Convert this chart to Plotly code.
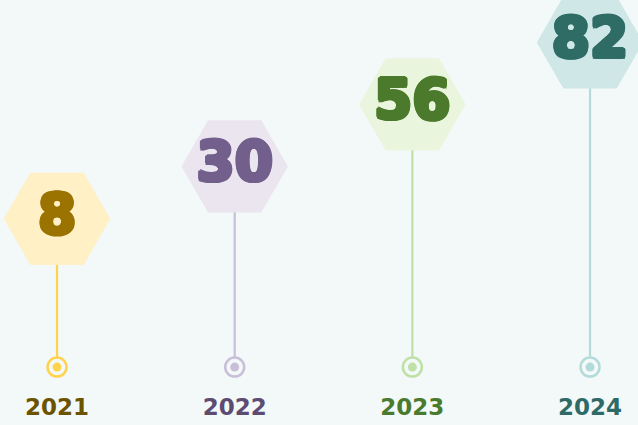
import plotly.graph_objects as go

years = ["2021", "2022", "2023", "2024"]
values = [8, 30, 56, 82]
line_colors = ["#ffd34e", "#c9bfd9", "#bfe0a6", "#b3dbda"]
hex_colors = ["#fff0c6", "#ebe5ef", "#eaf5de", "#cfe7e6"]
num_colors = ["#9a7300", "#735f8c", "#4c7a2c", "#2f6c66"]
year_colors = ["#6b5300", "#5c4b73", "#4a7a2e", "#2e6b66"]

BG = "#f3f8f8"
BASE = -54.2      # baseline level for the circles (axis units)
LABEL_Y = -72.0   # level for the year labels (axis units)

xs = list(range(len(years)))
fig = go.Figure()

for i, (yr, v) in enumerate(zip(years, values)):
    fig.add_trace(go.Scatter(
        x=[i, i], y=[BASE, v], mode="lines",
        line=dict(color=line_colors[i], width=2.2),
        hoverinfo="skip", showlegend=False))

# baseline rings and dots
fig.add_trace(go.Scatter(
    x=xs, y=[BASE] * len(xs), mode="markers",
    marker=dict(symbol="circle", size=19, color=BG,
                line=dict(color=line_colors, width=2.5)),
    hoverinfo="skip", showlegend=False))
fig.add_trace(go.Scatter(
    x=xs, y=[BASE] * len(xs), mode="markers",
    marker=dict(symbol="circle", size=9, color=line_colors, line=dict(width=0)),
    hoverinfo="skip", showlegend=False))

# hexagons
fig.add_trace(go.Scatter(
    x=xs, y=values, mode="markers",
    marker=dict(symbol="hexagon2", size=103, color=hex_colors,
                line=dict(color=hex_colors, width=3)),
    hoverinfo="skip", showlegend=False, cliponaxis=False))

# values inside hexagons (heavy look via a same-colour shadow halo)
for i, v in enumerate(values):
    c = num_colors[i]
    halo = ", ".join(f"{dx}px {dy}px 0 {c}" for dx, dy in
                     [(2, 0), (-2, 0), (0, 2), (0, -2),
                      (1.4, 1.4), (-1.4, -1.4), (1.4, -1.4), (-1.4, 1.4)])
    fig.add_trace(go.Scatter(
        x=[i], y=[v], mode="text",
        text=[str(v)], textposition="middle center",
        textfont=dict(family="DejaVu Sans", size=55, color=c, weight=700,
                      shadow=halo),
        hoverinfo="skip", showlegend=False, cliponaxis=False))

# year labels
fig.add_trace(go.Scatter(
    x=xs, y=[LABEL_Y] * len(xs), mode="text",
    text=years, textposition="middle center",
    textfont=dict(family="DejaVu Sans", size=23,
                  color=year_colors, weight=700),
    hoverinfo="skip", showlegend=False, cliponaxis=False))

fig.update_layout(
    width=638, height=425,
    margin=dict(l=0, r=0, t=0, b=0),
    paper_bgcolor=BG, plot_bgcolor=BG,
    xaxis=dict(range=[-0.321, 3.27], visible=False, fixedrange=True),
    yaxis=dict(range=[-78.5, 99.8], visible=False, fixedrange=True),
)

fig.write_html("out.html", config={"displayModeBar": False},
               post_script="document.body.style.margin='0';")
